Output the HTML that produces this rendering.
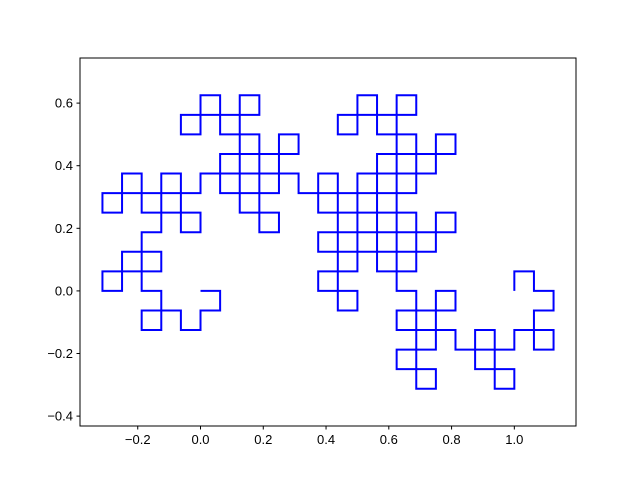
<!DOCTYPE html>
<html><head><meta charset="utf-8"><style>
html,body{margin:0;padding:0;background:#fff;}
svg{display:block;font-family:"Liberation Sans","DejaVu Sans",sans-serif;}
</style></head><body>
<svg id="chart" width="640" height="478" viewBox="0 0 640 478">
<rect x="0" y="0" width="640" height="478" fill="#fff"/>
<g id="plot"></g>
<rect x="80" y="58" width="496" height="368" fill="none" stroke="#000" stroke-width="1"/>
<g id="xt"></g><g id="yt"></g>
</svg>
<script>
const curveStart = [0, 0];
const curveEnd = [1, 0];
const curveOrder = [8];
const xTicks = [-0.2, 0.0, 0.2, 0.4, 0.6, 0.8, 1.0];
const xTickLabels = ["\u22120.2", "0.0", "0.2", "0.4", "0.6", "0.8", "1.0"];
const yTicks = [-0.4, -0.2, 0.0, 0.2, 0.4, 0.6];
const yTickLabels = ["\u22120.4", "\u22120.2", "0.0", "0.2", "0.4", "0.6"];

const X0 = 80, X1 = 576, Y0 = 58, Y1 = 426;
const xMin = -0.384, xMax = 1.1965, yMin = -0.4316, yMax = 0.7441;
function sx(v){ return X0 + (v - xMin) / (xMax - xMin) * (X1 - X0); }
function sy(v){ return Y1 - (v - yMin) / (yMax - yMin) * (Y1 - Y0); }
const NS = "http://www.w3.org/2000/svg";

// dragon curve in unit steps
let px = 0, py = 0, dx = 1, dy = 0;
const raw = [[0, 0]];
const n = Math.pow(2, curveOrder[0]);
for (let i = 1; i <= n; i++) {
  px += dx; py += dy; raw.push([px, py]);
  if (i < n) {
    let k = i; while (k % 2 === 0) k /= 2;
    if (k % 4 === 1) { const t = dx; dx = dy; dy = -t; }  // right
    else { const t = dx; dx = -dy; dy = t; }              // left
  }
}
// similarity map raw start/end -> curveStart/curveEnd
const ex = raw[raw.length-1][0], ey = raw[raw.length-1][1];
const tx = curveEnd[0] - curveStart[0], ty = curveEnd[1] - curveStart[1];
const den = ex*ex + ey*ey;
const ar = (tx*ex + ty*ey) / den, ai = (ty*ex - tx*ey) / den;
let d = "";
raw.forEach((p, i) => {
  const x = curveStart[0] + ar*p[0] - ai*p[1];
  const y = curveStart[1] + ai*p[0] + ar*p[1];
  d += (i ? "L" : "M") + sx(x).toFixed(2) + " " + sy(y).toFixed(2);
});
const path = document.createElementNS(NS, "path");
path.setAttribute("d", d);
path.setAttribute("fill", "none");
path.setAttribute("stroke", "#0000ff");
path.setAttribute("stroke-width", "2");
path.setAttribute("stroke-linejoin", "miter");


document.getElementById("plot").appendChild(path);

const xg = document.getElementById("xt");
xTicks.forEach((v, i) => {
  const l = document.createElementNS(NS, "line");
  l.setAttribute("x1", sx(v)); l.setAttribute("x2", sx(v));
  l.setAttribute("y1", Y1); l.setAttribute("y2", Y1 + 3.5);
  l.setAttribute("stroke", "#000");
  
  
  xg.appendChild(l);
  const t = document.createElementNS(NS, "text");
  t.setAttribute("x", sx(v)); t.setAttribute("y", Y1 + 18);
  t.setAttribute("text-anchor", "middle"); t.setAttribute("font-size", "13");
  t.textContent = xTickLabels[i];
  
  
  xg.appendChild(t);
});
const yg = document.getElementById("yt");
yTicks.forEach((v, i) => {
  const l = document.createElementNS(NS, "line");
  l.setAttribute("x1", X0 - 3.5); l.setAttribute("x2", X0);
  l.setAttribute("y1", sy(v)); l.setAttribute("y2", sy(v));
  l.setAttribute("stroke", "#000");
  
  
  yg.appendChild(l);
  const t = document.createElementNS(NS, "text");
  t.setAttribute("x", X0 - 7); t.setAttribute("y", sy(v) + 4.5);
  t.setAttribute("text-anchor", "end"); t.setAttribute("font-size", "13");
  t.textContent = yTickLabels[i];
  
  
  yg.appendChild(t);
});
</script>
</body></html>
